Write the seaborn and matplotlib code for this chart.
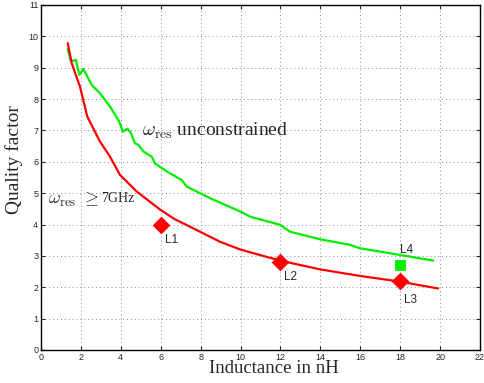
import numpy as np
import pandas as pd
import matplotlib
matplotlib.use("Agg")
import matplotlib.pyplot as plt
import seaborn as sns

# constrained curve (omega_res >= 7GHz)
red_x = [1.34, 1.54, 1.95, 2.32, 2.96, 3.46, 3.96, 4.8, 6.0, 6.7, 7.97, 8.97,
         10.0, 11.98, 13.98, 15.99, 17.99, 19.9]
red_y = [9.78, 9.14, 8.4, 7.44, 6.64, 6.16, 5.58, 5.05, 4.46, 4.17, 3.77, 3.45,
         3.2, 2.85, 2.57, 2.36, 2.18, 1.96]

# unconstrained curve
green_x = [1.34, 1.5, 1.6, 1.75, 1.92, 2.12, 2.54, 2.96, 3.46, 3.92, 4.1, 4.33,
           4.51, 4.71, 4.88, 5.13, 5.55, 5.71, 6.3, 7.05, 7.3, 8.47, 10.0, 10.48,
           11.98, 12.48, 13.98, 15.49, 16.0, 17.99, 19.66]
green_y = [9.59, 9.2, 9.22, 9.25, 8.77, 8.96, 8.45, 8.18, 7.76, 7.28, 6.96, 7.05,
           6.91, 6.59, 6.54, 6.33, 6.16, 5.95, 5.69, 5.42, 5.21, 4.84, 4.41, 4.25,
           3.99, 3.77, 3.53, 3.35, 3.24, 3.03, 2.85]

# fabricated inductors
diamond_x = [6, 12, 18]
diamond_y = [4.0, 2.8, 2.2]
diamond_names = ["L1", "L2", "L3"]
square_x = [18]
square_y = [2.7]
square_names = ["L4"]

sns.set_theme(style="ticks")
plt.rcParams["mathtext.fontset"] = "cm"
plt.rcParams["font.family"] = ["Liberation Sans", "DejaVu Sans"]

fig = plt.figure(figsize=(4.84, 3.83), dpi=100)
ax = fig.add_axes([0.0847, 0.0862, 0.907, 0.901])

red_df = pd.DataFrame({"L": red_x, "Q": red_y})
green_df = pd.DataFrame({"L": green_x, "Q": green_y})
sns.lineplot(data=green_df, x="L", y="Q", ax=ax, color="#00ee00", lw=1.6,
             sort=False, estimator=None)
sns.lineplot(data=red_df, x="L", y="Q", ax=ax, color="#ff0000", lw=1.6,
             sort=False, estimator=None)

sns.scatterplot(x=diamond_x, y=diamond_y, ax=ax, marker="D", s=70,
                color="#ff0000", edgecolor="#ff0000", zorder=5)
sns.scatterplot(x=square_x, y=square_y, ax=ax, marker="s", s=55,
                color="#00ee00", edgecolor="#00ee00", zorder=5)

lbl_offsets = [(0.2, -0.5), (0.2, -0.47), (0.2, -0.6)]
for x, y, name, (dx, dy) in zip(diamond_x, diamond_y, diamond_names, lbl_offsets):
    ax.text(x + dx, y + dy, name, fontsize=8.5, va="center", ha="left")
for x, y, name in zip(square_x, square_y, square_names):
    ax.text(x, y + 0.5, name, fontsize=8.5, va="center", ha="left")

serif = ["Liberation Serif", "DejaVu Serif"]
ax.text(5.05, 7.0, r"$\omega_{\rm res}$ unconstrained", fontsize=14,
        family=serif, va="center")
ax.text(0.35, 4.8, r"$\omega_{\rm res}\ \geq$", fontsize=13,
        family=serif, va="center")
ax.text(2.99, 4.83, "7GHz", fontsize=10, family=serif, va="center")

ax.set_xlim(0, 22)
ax.set_ylim(0, 11)
ax.set_xticks(range(0, 23, 2))
ax.set_yticks(range(0, 12))
ax.grid(True, linestyle=(0, (1, 3)), color="#888888", lw=0.7)
ax.tick_params(direction="in", length=3, labelsize=6.5, top=True, right=True,
               width=0.8, pad=2)
for sp in ax.spines.values():
    sp.set_linewidth(1.0)
    sp.set_color("black")

ax.set_xlabel("Inductance in nH", family=serif, fontsize=13.5)
ax.set_ylabel("Quality factor", family=serif, fontsize=14)
ax.xaxis.set_label_coords(0.53, -0.03)
ax.yaxis.set_label_coords(-0.041, 0.553)

fig.savefig("out.png", dpi=100)
